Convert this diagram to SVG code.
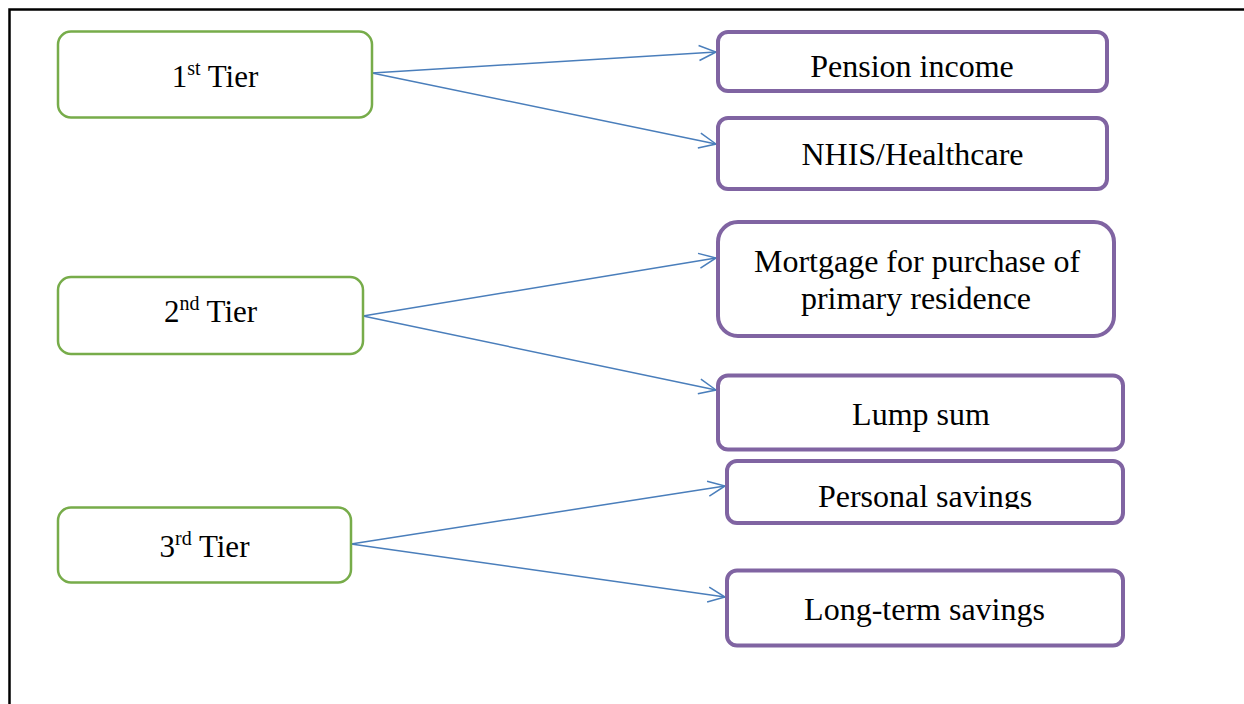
<svg xmlns="http://www.w3.org/2000/svg" width="1244" height="704" viewBox="0 0 1244 704">
<style>
.frame{stroke:#000;stroke-width:2.5;fill:none}
.tier{fill:#fff;stroke:#77AC4A;stroke-width:2.5}
.out{fill:#fff;stroke:#8064A2;stroke-width:4}
.t{font-family:"Liberation Serif","Times New Roman",serif;font-size:31px;fill:#000;text-anchor:middle}
.r{font-size:32px}
.sup{font-size:20px}
.conn{stroke:#4A7EBB;stroke-width:1.5;fill:none;marker-end:url(#arr)}
</style>
<defs>
<marker id="arr" markerUnits="userSpaceOnUse" markerWidth="22" markerHeight="20" refX="19" refY="10" orient="auto">
<path d="M2,2.5 L19,10 L2,17.5" fill="none" stroke="#4A7EBB" stroke-width="1.5"/>
</marker>
<clipPath id="clipPS"><rect x="727" y="461" width="396" height="48"/></clipPath>
</defs>
<rect width="1244" height="704" fill="#fff"/>
<path class="frame" d="M9.5,704 L9.5,9.5 L1244,9.5"/>
<g id="connectors">
<line class="conn" x1="372" y1="73" x2="716" y2="52"/>
<line class="conn" x1="372" y1="73" x2="716" y2="144"/>
<line class="conn" x1="363" y1="316" x2="716" y2="258"/>
<line class="conn" x1="363" y1="316" x2="716" y2="390"/>
<line class="conn" x1="351" y1="544" x2="725" y2="486"/>
<line class="conn" x1="351" y1="544" x2="725" y2="597"/>
</g>
<g id="tier1">
<rect class="tier" x="58" y="31.5" width="314" height="86" rx="13"/>
<text class="t" x="215" y="87">1<tspan class="sup" dy="-12">st</tspan><tspan dy="12"> Tier</tspan></text>
</g>
<g id="tier2">
<rect class="tier" x="58" y="277" width="305" height="77" rx="13"/>
<text class="t" x="210.5" y="322">2<tspan class="sup" dy="-12">nd</tspan><tspan dy="12"> Tier</tspan></text>
</g>
<g id="tier3">
<rect class="tier" x="58" y="507.5" width="293" height="75" rx="13"/>
<text class="t" x="204.5" y="557">3<tspan class="sup" dy="-12">rd</tspan><tspan dy="12"> Tier</tspan></text>
</g>
<g id="pension">
<rect class="out" x="718" y="32" width="389" height="59" rx="10"/>
<text class="t r" x="912" y="77">Pension income</text>
</g>
<g id="nhis">
<rect class="out" x="718" y="118" width="389" height="71" rx="10"/>
<text class="t r" x="912.5" y="165">NHIS/Healthcare</text>
</g>
<g id="mortgage">
<rect class="out" x="718" y="222" width="396" height="114" rx="20"/>
<text class="t r" x="917" y="272">Mortgage for purchase of</text>
<text class="t r" x="916" y="309">primary residence</text>
</g>
<g id="lumpsum">
<rect class="out" x="718" y="375.5" width="405" height="74" rx="10"/>
<text class="t r" x="921" y="425">Lump sum</text>
</g>
<g id="personal">
<rect class="out" x="727" y="461" width="396" height="62" rx="10"/>
<text class="t r" x="925" y="507" clip-path="url(#clipPS)">Personal savings</text>
</g>
<g id="longterm">
<rect class="out" x="727" y="570.5" width="396" height="75" rx="10"/>
<text class="t r" x="924.5" y="620">Long-term savings</text>
</g>
</svg>
